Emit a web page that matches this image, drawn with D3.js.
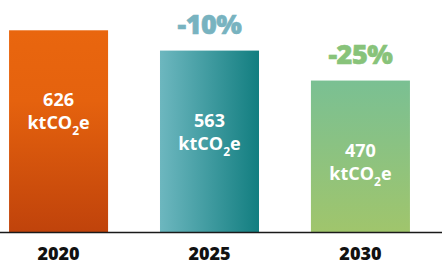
<!DOCTYPE html>
<html>
<head>
<meta charset="utf-8">
<script src="https://cdn.jsdelivr.net/npm/d3@7"></script>
<style>
html,body{margin:0;padding:0;background:#fff;}
svg{display:block;}
text{font-family:"Open Sans",Lato,sans-serif;font-weight:700;}
</style>
</head>
<body>
<svg id="chart" width="442" height="264"></svg>
<script>
const categories = ["2020", "2025", "2030"];
const values = [626, 563, 470];
const changeLabels = ["", "-10%", "-25%"];
const unitMain = "ktCO";
const unitSub = "2";
const unitEnd = "e";

const W = 442, H = 264;
const svg = d3.select("#chart");
const defs = svg.append("defs");

const g1 = defs.append("linearGradient").attr("id","g0").attr("x1",0).attr("y1",0).attr("x2",0).attr("y2",1);
g1.append("stop").attr("offset","0%").attr("stop-color","#e9660e");
g1.append("stop").attr("offset","35%").attr("stop-color","#e5620e");
g1.append("stop").attr("offset","100%").attr("stop-color","#c0430b");
const g2 = defs.append("linearGradient").attr("id","g1").attr("x1",0).attr("y1",0).attr("x2",1).attr("y2",0);
g2.append("stop").attr("offset","0%").attr("stop-color","#6db7bf");
g2.append("stop").attr("offset","100%").attr("stop-color","#127e80");
const g3 = defs.append("linearGradient").attr("id","g2").attr("x1",0).attr("y1",0).attr("x2",0).attr("y2",1);
g3.append("stop").attr("offset","0%").attr("stop-color","#7ac093");
g3.append("stop").attr("offset","100%").attr("stop-color","#a0c56c");
const changeColors = ["#000", "#78b3c0", "#88c37a"];

const x = d3.scaleBand().domain(categories).range([0, 419]).paddingInner(0.344).paddingOuter(0.06);
const y = d3.scaleLinear().domain([0, 720]).range([232, 0]);

svg.selectAll("rect.bar").data(values).join("rect")
  .attr("class","bar")
  .attr("x",(d,i)=>x(categories[i]))
  .attr("y",d=>y(d))
  .attr("width",x.bandwidth())
  .attr("height",d=>y(0)-y(d))
  .attr("fill",(d,i)=>`url(#g${i})`);

values.forEach((v,i)=>{
  const cx = x(categories[i]) + x.bandwidth()/2;
  const top = y(v);
  svg.append("text").attr("x",cx).attr("y",top+76)
    .attr("text-anchor","middle").attr("fill","#fff").attr("font-size",18).text(v);
  const t = svg.append("text").attr("x",cx).attr("y",top+99)
    .attr("text-anchor","middle").attr("fill","#fff").attr("font-size",18);
  t.append("tspan").text(unitMain);
  t.append("tspan").attr("font-size",12).attr("dy",6).text(unitSub);
  t.append("tspan").attr("dy",-6).text(unitEnd);
  if (changeLabels[i]) {
    svg.append("text").attr("x",cx).attr("y",top-17)
      .attr("text-anchor","middle").attr("fill",changeColors[i]).attr("font-size",27)
      .style("font-weight",800).attr("stroke",changeColors[i]).attr("stroke-width",0.6)
      .attr("letter-spacing",-0.5).text(changeLabels[i]);
  }
});

const axis = svg.append("g").attr("transform",`translate(0,${y(0)})`)
  .call(d3.axisBottom(x).tickSize(0).tickPadding(15));
axis.select(".domain").remove();
axis.append("line").attr("x1",0).attr("x2",W).attr("y1",0.5).attr("y2",0.5)
  .attr("stroke","#1a1a1a").attr("stroke-width",1.5);
axis.selectAll(".tick text").attr("font-size",18).attr("fill","#111")
  .style("font-family","'Open Sans', sans-serif").style("font-weight",800);
</script>
</body>
</html>
